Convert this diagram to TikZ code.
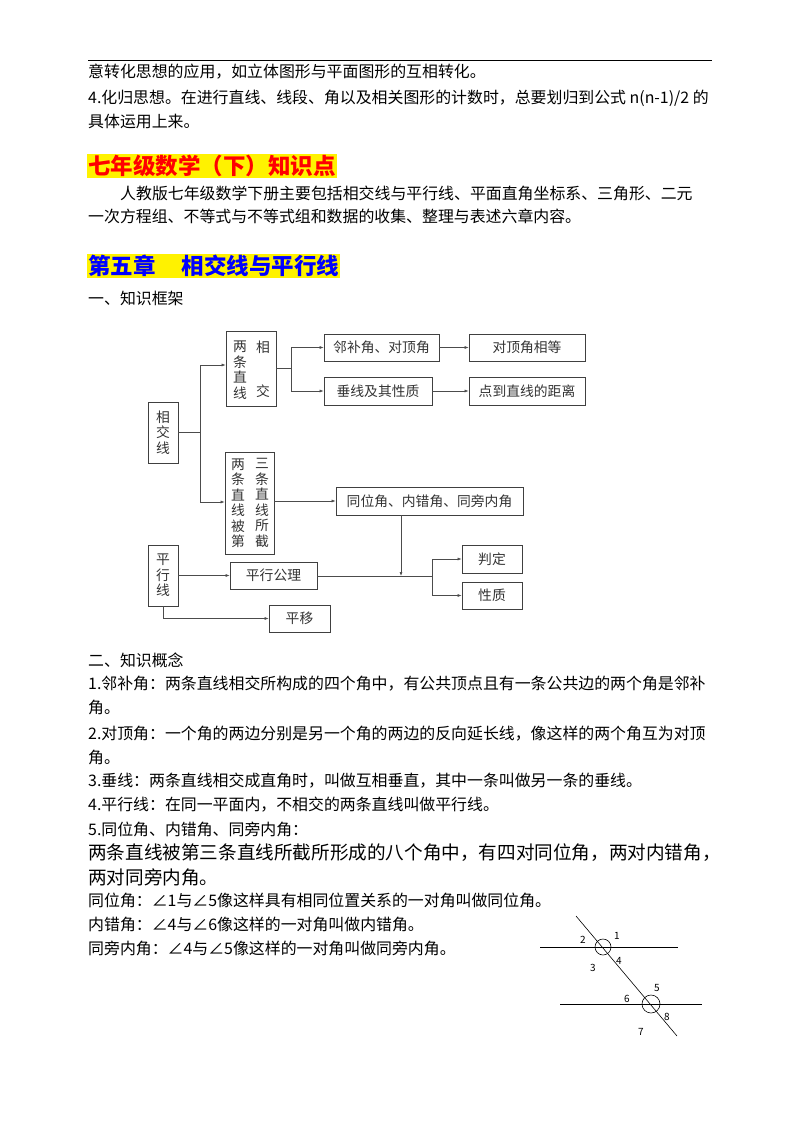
\documentclass[tikz,border=0pt]{standalone}
\usepackage{fontspec}
\setmainfont{Noto Sans CJK SC}
\usetikzlibrary{arrows.meta}
\begin{document}
\begin{tikzpicture}[x=1pt,y=-1pt,
  txt/.style={anchor=west,inner sep=0pt,font=\fontsize{15.9}{17}\selectfont},
  bx/.style={draw=black!75,line width=0.7pt,inner sep=0pt,font=\fontsize{13.8}{15}\selectfont,text=black!80},
  vt/.style={inner sep=0pt,align=center,font=\fontsize{13.8}{15.5}\selectfont,text=black!80},
  ar/.style={draw=black!70,line width=0.6pt,-{Latex[length=4pt,width=3pt]}},
  ln/.style={draw=black!70,line width=0.6pt},
  lab/.style={inner sep=0pt,font=\fontsize{10}{11}\selectfont}]
\useasboundingbox (0,0) rectangle (800,1129);
\draw[line width=0.8pt] (88,60) -- (712,60);
\node[txt] (t1) at (88,72) {意转化思想的应用，如立体图形与平面图形的互相转化。};
\node[txt] (t2) at (88,98) {4.化归思想。在进行直线、线段、角以及相关图形的计数时，总要划归到公式 n(n-1)/2 的};
\node[txt] (t3) at (88,121) {具体运用上来。};
\node[anchor=west,inner sep=1pt,fill=yellow,text=red,font=\fontsize{22.5}{24}\bfseries\selectfont] (h1) at (87,166) {七年级数学（下）知识点};
\node[txt] (t4) at (120,193) {人教版七年级数学下册主要包括相交线与平行线、平面直角坐标系、三角形、二元};
\node[txt] (t5) at (88,216) {一次方程组、不等式与不等式组和数据的收集、整理与表述六章内容。};
\node[anchor=west,inner sep=1pt,fill=yellow,text=blue,font=\fontsize{22.5}{24}\bfseries\selectfont] (h2) at (87,266) {第五章\hspace{26pt}相交线与平行线};
\node[txt] (t6) at (88,298) {一、知识框架};
% diagram
\node[bx,minimum width=30pt,minimum height=61pt] (xj) at (163,432.5) {};
\node[vt] at (xj) {相\\交\\线};
\node[bx,minimum width=50pt,minimum height=75pt] (lx) at (251,368.5) {};
\node[vt] at (240,370) {两\\条\\直\\线};
\node[vt] at (263,347) {相};
\node[vt] at (263,391) {交};
\node[bx,minimum width=115pt,minimum height=27pt] (lb) at (381.5,347.5) {邻补角、对顶角};
\node[bx,minimum width=116pt,minimum height=27pt] (dd) at (527,347.5) {对顶角相等};
\node[bx,minimum width=108pt,minimum height=28pt] (cx) at (378,391) {垂线及其性质};
\node[bx,minimum width=116pt,minimum height=28pt] (dz) at (527,391) {点到直线的距离};
\node[bx,minimum width=49pt,minimum height=102pt] (sj) at (249.5,503) {};
\node[vt] at (238,503) {两\\条\\直\\线\\被\\第};
\node[vt] at (262,503) {三\\条\\直\\线\\所\\截};
\node[bx,minimum width=187pt,minimum height=28pt] (tw) at (429.5,501) {同位角、内错角、同旁内角};
\node[bx,minimum width=30pt,minimum height=61pt] (px) at (163,575.5) {};
\node[vt] at (px) {平\\行\\线};
\node[bx,minimum width=87pt,minimum height=27pt] (gl) at (273.5,575.5) {平行公理};
\node[bx,minimum width=60pt,minimum height=28pt] (pd) at (492,559) {判定};
\node[bx,minimum width=60pt,minimum height=27pt] (xz) at (492,595.5) {性质};
\node[bx,minimum width=61pt,minimum height=27pt] (py) at (299.5,618.5) {平移};
\coordinate (j1) at (200,432);
\coordinate (j2) at (291,368);
\coordinate (j3) at (432,576);
\coordinate (j4) at (401,576);
\draw[ln] (xj.east|-j1) -- (j1);
\draw[ar] (j1) |- (lx.west|-0,365);
\draw[ar] (j1) |- (sj.west|-0,502);
\draw[ln] (lx.east|-j2) -- (j2);
\draw[ar] (j2) |- (lb.west);
\draw[ar] (j2) |- (cx.west);
\draw[ar] (lb) -- (dd);
\draw[ar] (cx) -- (dz);
\draw[ar] (sj.east|-tw) -- (tw.west);
\draw[ar] (tw.south-|j4) -- (j4);
\draw[ar] (px.east|-gl) -- (gl.west);
\draw[ln] (gl.east|-j3) -- (j3);
\draw[ar] (j3) |- (pd.west);
\draw[ar] (j3) |- (xz.west);
\draw[ar] (px.south) |- (py.west);
% concepts
\node[txt] (c0) at (88,660) {二、知识概念};
\node[txt] (c1) at (88,684) {1.邻补角：两条直线相交所构成的四个角中，有公共顶点且有一条公共边的两个角是邻补};
\node[txt] (c1b) at (88,707) {角。};
\node[txt] (c2) at (88,734) {2.对顶角：一个角的两边分别是另一个角的两边的反向延长线，像这样的两个角互为对顶};
\node[txt] (c2b) at (88,757) {角。};
\node[txt] (c3) at (88,781) {3.垂线：两条直线相交成直角时，叫做互相垂直，其中一条叫做另一条的垂线。};
\node[txt] (c4) at (88,805) {4.平行线：在同一平面内，不相交的两条直线叫做平行线。};
\node[txt] (c5) at (88,829) {5.同位角、内错角、同旁内角：};
\node[txt,font=\fontsize{18.6}{20}\selectfont] (c6) at (88,853) {两条直线被第三条直线所截所形成的八个角中，有四对同位角，两对内错角，};
\node[txt,font=\fontsize{18.6}{20}\selectfont] (c7) at (88,877) {两对同旁内角。};
\node[txt] (c8) at (88,900) {同位角：∠1与∠5像这样具有相同位置关系的一对角叫做同位角。};
\node[txt] (c9) at (88,924) {内错角：∠4与∠6像这样的一对角叫做内错角。};
\node[txt] (c10) at (88,948) {同旁内角：∠4与∠5像这样的一对角叫做同旁内角。};
% angle figure
\coordinate (a1) at (540,947); \coordinate (a2) at (678,947);
\coordinate (b1) at (560,1004); \coordinate (b2) at (702,1004);
\coordinate (s1) at (576,916); \coordinate (s2) at (677,1036);
\draw[line width=0.6pt] (a1) -- (a2);
\draw[line width=0.6pt] (b1) -- (b2);
\draw[line width=0.6pt] (s1) -- (s2);
\draw[line width=0.6pt] (603,947) circle (8);
\draw[line width=0.6pt] (651,1004) circle (9);
\node[lab] at (583,940) {2};
\node[lab] at (617,936) {1};
\node[lab] at (593,968) {3};
\node[lab] at (619,961) {4};
\node[lab] at (657,988) {5};
\node[lab] at (627,999) {6};
\node[lab] at (667,1017) {8};
\node[lab] at (641,1032) {7};
\end{tikzpicture}
\end{document}
